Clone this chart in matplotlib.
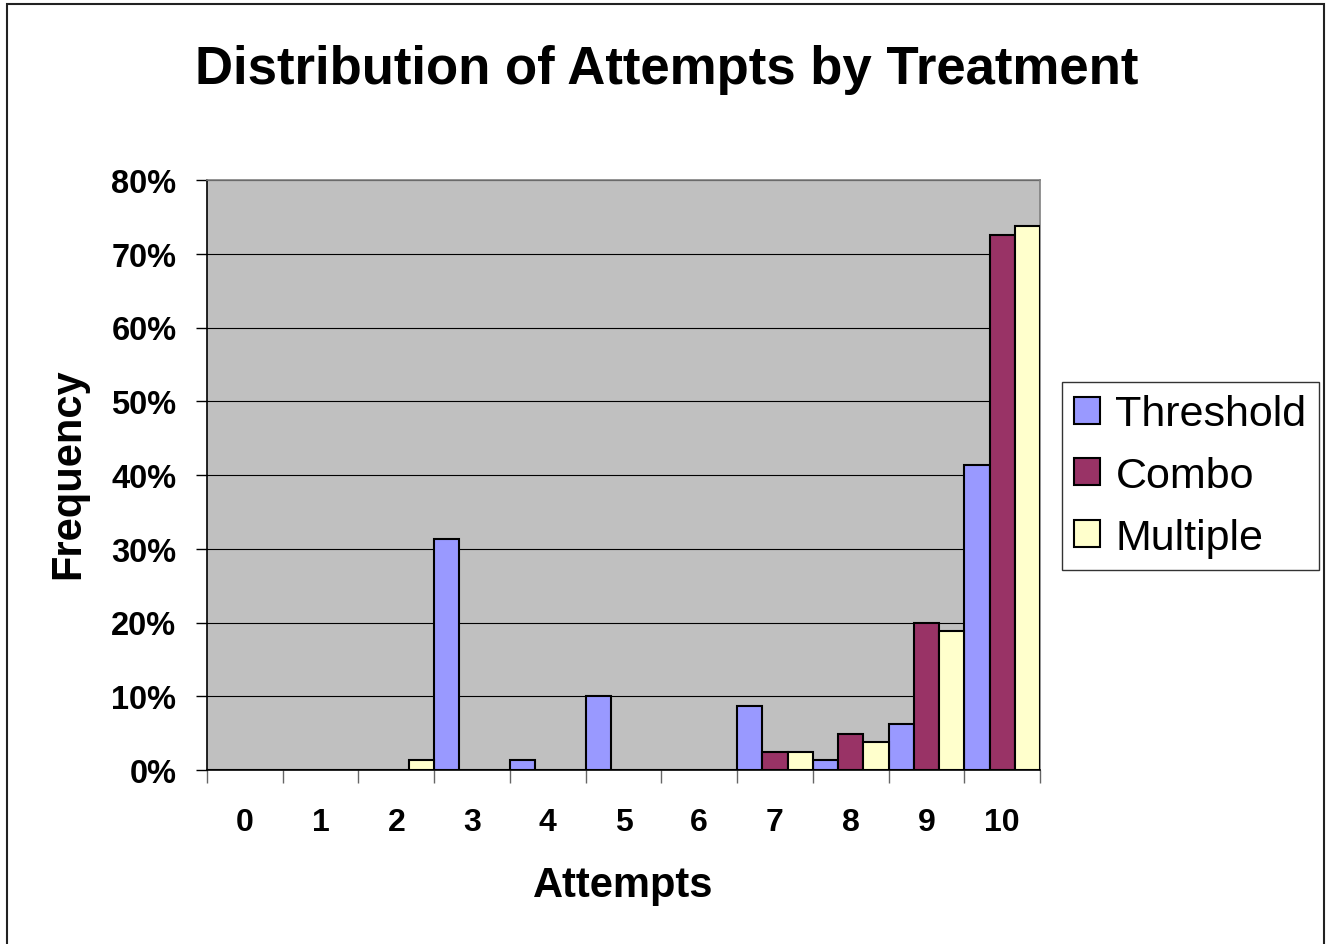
import numpy as np
import matplotlib
matplotlib.use('Agg')
import matplotlib.pyplot as plt
from matplotlib.patches import Rectangle
from matplotlib.ticker import FixedLocator, PercentFormatter

plt.rcParams['font.family'] = ['Liberation Sans', 'DejaVu Sans']

# attempt counts and share of subjects per treatment (percent)
attempts = [0, 1, 2, 3, 4, 5, 6, 7, 8, 9, 10]
threshold = [0, 0, 0, 31.3, 1.3, 10.0, 0, 8.7, 1.3, 6.2, 41.3]
combo = [0, 0, 0, 0, 0, 0, 0, 2.4, 4.9, 20.0, 72.5]
multiple = [0, 0, 1.3, 0, 0, 0, 0, 2.4, 3.8, 18.8, 73.8]
series_names = ['Threshold', 'Combo', 'Multiple']
series_colors = ['#9999FF', '#993366', '#FFFFCC']

fig = plt.figure(figsize=(13.33, 9.45), dpi=100)
ax = fig.add_axes([207/1333, 1 - 771/945, 833/1333, 590/945])
ax.set_facecolor('#C0C0C0')

x = np.arange(len(attempts))
w = 1/3
for k, (vals, name, col) in enumerate(zip([threshold, combo, multiple], series_names, series_colors)):
    ax.bar(x + (k - 1) * w, vals, width=w, color=col, edgecolor='black',
           linewidth=1.5, label=name, zorder=3)

ax.set_xlim(-0.5, len(attempts) - 0.5)
ax.set_ylim(0, 80)

# y axis: percent ticks with black gridlines
ax.set_yticks(np.arange(0, 81, 10))
ax.yaxis.set_major_formatter(PercentFormatter(decimals=0))
ax.grid(axis='y', color='black', linewidth=0.8, zorder=1)
ax.set_axisbelow(True)
ax.tick_params(axis='y', direction='out', length=8, width=1, pad=14,
               labelsize=23.5)

# x axis: tick marks between categories, labels centred on categories
ax.xaxis.set_major_locator(FixedLocator(np.arange(-0.5, len(attempts), 1)))
ax.xaxis.set_minor_locator(FixedLocator(x))
ax.set_xticklabels([])
ax.set_xticklabels([str(a) for a in attempts], minor=True)
ax.tick_params(axis='x', which='major', direction='out', length=9, width=1,
               color='#666666')
ax.tick_params(axis='x', which='minor', length=0, pad=27, labelsize=23)
for lab in ax.get_xticklabels(minor=True) + ax.get_yticklabels():
    lab.set_fontweight('bold')

ax.spines['left'].set_color('black')
ax.spines['bottom'].set_color('black')
ax.spines['top'].set_color('#808080')
ax.spines['right'].set_color('#808080')
for s in ax.spines.values():
    s.set_linewidth(1.2)

fig.text(0.5, 1 - 70/945, 'Distribution of Attempts by Treatment',
         ha='center', va='center', fontsize=38, fontweight='bold')
fig.text(68/1333, 1 - 474/945, 'Frequency', rotation=90,
         ha='center', va='center', fontsize=30, fontweight='bold')
fig.text(623/1333, 1 - 886/945, 'Attempts',
         ha='center', va='center', fontsize=30, fontweight='bold')

leg = ax.legend(loc='center left', bbox_to_anchor=(1062/1333, 1 - 477/945),
                bbox_transform=fig.transFigure, fontsize=31, frameon=True,
                fancybox=False, borderaxespad=0, borderpad=0.28,
                handlelength=0.6, handleheight=0.6, handletextpad=0.36,
                labelspacing=0.5)
leg.get_frame().set_edgecolor('black')
leg.get_frame().set_linewidth(1.0)

# outer chart border
fig.patches.append(Rectangle((7/1333, -0.02), 1317/1333, 1.02 - 5/945,
                             transform=fig.transFigure, fill=False,
                             edgecolor='#222222', linewidth=1.5))

fig.savefig('out.png', dpi=100)
